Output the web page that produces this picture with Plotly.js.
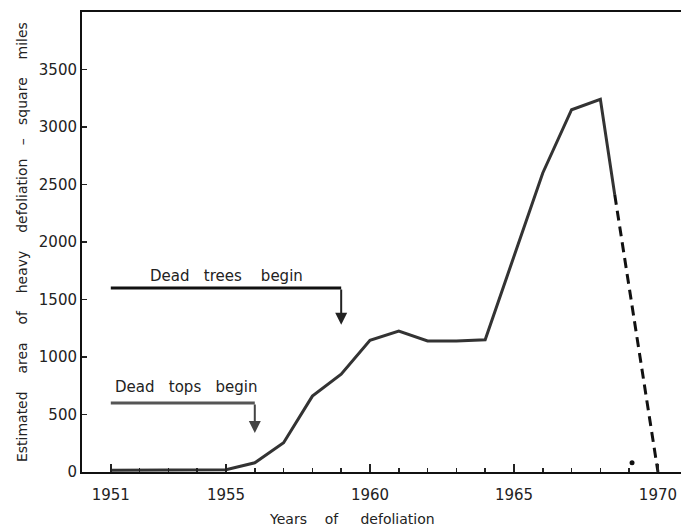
<!DOCTYPE html>
<html>
<head>
<meta charset="utf-8">
<script src="https://cdn.plot.ly/plotly-3.0.1.min.js"></script>
<style>
  html, body { margin: 0; padding: 0; background: #fff; }
  #chart { width: 681px; height: 527px; }
</style>
</head>
<body>
<div id="chart"></div>
<script>
// ---- data ----
const years = [1951, 1952, 1953, 1954, 1955, 1956, 1957, 1958, 1959, 1960, 1961, 1962, 1963, 1964, 1965, 1966, 1967, 1968, 1968.5];
const area  = [15, 15, 15, 15, 20, 80, 255, 660, 850, 1145, 1225, 1140, 1140, 1150, 1880, 2600, 3150, 3240, 2410];
const dashYears = [1968.5, 1970];
const dashArea  = [2410, 0];
const dotYears = [1969.1];
const dotArea  = [80];

const treesLineX = [1951, 1959];
const treesLineY = [1600, 1600];
const treesArrow = {x: 1959, from: 1600, to: 1280};
const topsLineX = [1951, 1956];
const topsLineY = [600, 600];
const topsArrow = {x: 1956, from: 600, to: 340};

const xTickVals = [1951, 1955, 1960, 1965, 1970];
const xTickText = ['1951', '1955', '1960', '1965', '1970'];
const yTickVals = [0, 500, 1000, 1500, 2000, 2500, 3000, 3500];
const yTickText = ['0', '500', '1000', '1500', '2000', '2500', '3000', '3500'];

const sp = n => '\u00a0'.repeat(n);
const FONT = 'DejaVu Sans, sans-serif';
const INK = '#222';

const traces = [
  {x: years, y: area, mode: 'lines', line: {color: '#333', width: 3}, hoverinfo: 'skip'},
  {x: dashYears, y: dashArea, mode: 'lines', line: {color: '#111', width: 3, dash: '10px,6px'}, hoverinfo: 'skip'},
  {x: dotYears, y: dotArea, mode: 'markers', marker: {color: '#111', size: 5}, hoverinfo: 'skip'},
  {x: treesLineX, y: treesLineY, mode: 'lines', line: {color: '#111', width: 3}, hoverinfo: 'skip'},
  {x: topsLineX, y: topsLineY, mode: 'lines', line: {color: '#555', width: 3}, hoverinfo: 'skip'}
];

const layout = {
  width: 681, height: 527,
  margin: {l: 82, r: 0, t: 12, b: 55},
  paper_bgcolor: '#fff', plot_bgcolor: '#fff',
  showlegend: false,
  font: {family: FONT, color: INK, size: 15},
  xaxis: {
    range: [1950, 1970.8],
    tickmode: 'array', tickvals: xTickVals, ticktext: xTickText,
    ticks: 'inside', ticklen: 8, tickwidth: 1.5, tickcolor: '#222',
    minor: {tick0: 1950, dtick: 1, ticks: 'inside', ticklen: 4, tickwidth: 1.5, tickcolor: '#222'},
    ticklabelstandoff: 8,
    tickfont: {family: FONT, size: 15, color: INK},
    showline: true, linewidth: 2, linecolor: '#111', mirror: true,
    showgrid: false, zeroline: false, fixedrange: true
  },
  yaxis: {
    range: [0, 4000],
    tickmode: 'array', tickvals: yTickVals, ticktext: yTickText,
    ticks: 'inside', ticklen: 5, tickwidth: 1.5, tickcolor: '#222',
    tickfont: {family: FONT, size: 15, color: INK},
    showline: true, linewidth: 2, linecolor: '#111',
    showgrid: false, zeroline: false, fixedrange: true
  },
  annotations: [
    {xref: 'x', yref: 'y', x: treesArrow.x, y: treesArrow.to, axref: 'x', ayref: 'y',
     ax: treesArrow.x, ay: treesArrow.from, showarrow: true, arrowhead: 2, arrowsize: 1.2,
     arrowwidth: 2, arrowcolor: '#222', text: ''},
    {xref: 'x', yref: 'y', x: topsArrow.x, y: topsArrow.to, axref: 'x', ayref: 'y',
     ax: topsArrow.x, ay: topsArrow.from, showarrow: true, arrowhead: 2, arrowsize: 1.2,
     arrowwidth: 2, arrowcolor: '#444', text: ''},
    {xref: 'x', yref: 'y', x: 1955.03, y: 1706, showarrow: false, xanchor: 'center', yanchor: 'middle',
     text: 'Dead' + sp(3) + 'trees' + sp(4) + 'begin', font: {family: FONT, size: 15, color: INK}},
    {xref: 'x', yref: 'y', x: 1951.08, y: 740, showarrow: false, xanchor: 'left', yanchor: 'middle',
     text: 'Dead' + sp(3) + 'tops' + sp(3) + 'begin', font: {family: FONT, size: 15, color: INK}},
    {xref: 'paper', yref: 'paper', x: 0.451, y: -0.102, showarrow: false, xanchor: 'center', yanchor: 'middle',
     text: 'Years' + sp(4) + 'of' + sp(5) + 'defoliation', font: {family: FONT, size: 14, color: INK}},
    {xref: 'paper', yref: 'paper', x: -0.1, y: 0.5, showarrow: false, xanchor: 'center', yanchor: 'middle',
     textangle: -90,
     text: 'Estimated' + sp(4) + 'area' + sp(4) + 'of' + sp(4) + 'heavy' + sp(4) + 'defoliation' + sp(3) + '–' + sp(3) + 'square' + sp(4) + 'miles',
     font: {family: FONT, size: 14, color: INK}}
  ]
};

Plotly.newPlot('chart', traces, layout, {displayModeBar: false, staticPlot: true});
</script>
</body>
</html>
